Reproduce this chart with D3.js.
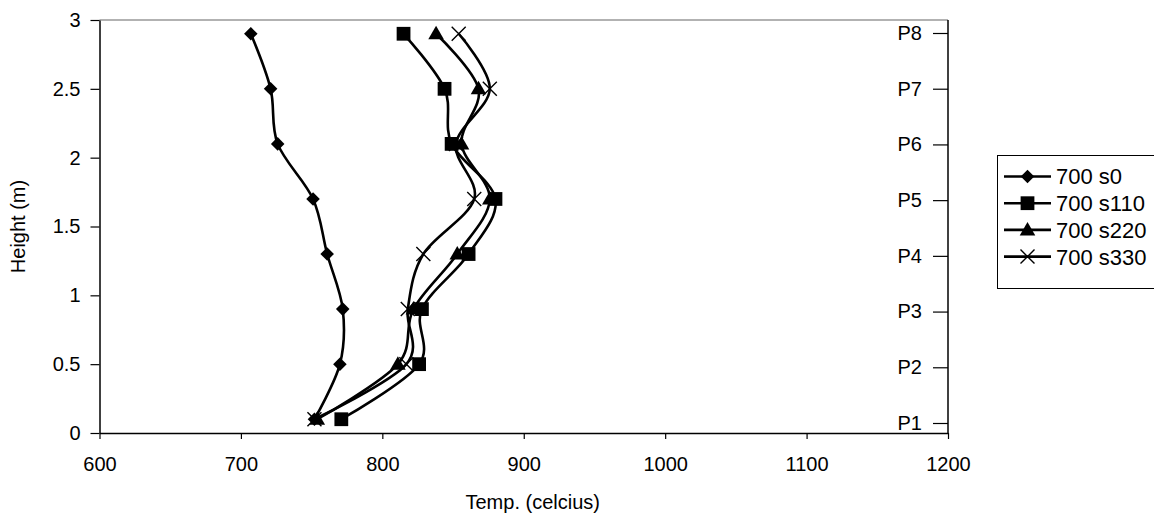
<!DOCTYPE html>
<html><head><meta charset="utf-8">
<script src="https://cdn.jsdelivr.net/npm/d3@7"></script>
<style>
body{margin:0;background:#fff}
text{font-family:"Liberation Sans",Arial,sans-serif;fill:#000}
</style>
</head><body><svg id="c" width="1154" height="521"></svg>
<script>
const heights = [0.1, 0.5, 0.9, 1.3, 1.7, 2.1, 2.5, 2.9];
const s0   = [752, 770, 772, 761, 751, 726, 721, 707];
const s110 = [771, 826, 828, 861, 880, 849, 844, 815];
const s220 = [754, 811, 822, 853, 876, 856, 868, 838];
const s330 = [752, 817, 818, 829, 865, 852, 876, 854];
const seriesNames = ["700 s0", "700 s110", "700 s220", "700 s330"];
const seriesMarkers = ["diamond", "square", "triangle", "cross"];
const xTicks = [600, 700, 800, 900, 1000, 1100, 1200];
const yTicks = [0, 0.5, 1, 1.5, 2, 2.5, 3];
const pLabels = ["P1", "P2", "P3", "P4", "P5", "P6", "P7", "P8"];

const FS = 20;
const LFS = 22;
const svg = d3.select("#c");
const x = d3.scaleLinear().domain([600, 1200]).range([99.5, 948]);
const y = d3.scaleLinear().domain([0, 3]).range([433, 20]);
const p = d3.scalePoint().domain(pLabels).range([423, 33]);

// top border
svg.append("line").attr("x1", x(600)).attr("x2", x(1200)).attr("y1", y(3)).attr("y2", y(3))
  .attr("stroke", "#999").attr("stroke-width", 1.5);

// left axis
const ga = svg.append("g").attr("transform", `translate(${x(600)},0)`)
  .call(d3.axisLeft(y).tickValues(yTicks).tickSize(9).tickSizeOuter(0).tickPadding(10).tickFormat(d => String(d)));
// bottom axis
const gb = svg.append("g").attr("transform", `translate(0,${y(0)})`)
  .call(d3.axisBottom(x).tickValues(xTicks).tickSize(6).tickSizeOuter(0).tickPadding(18).tickFormat(d => String(d)));
// right axis
svg.append("line").attr("x1", x(1200)).attr("x2", x(1200)).attr("y1", y(3)).attr("y2", y(0))
  .attr("stroke", "#000").attr("stroke-width", 1.5);
const gr = svg.append("g").attr("transform", `translate(${x(1200)},0)`)
  .call(d3.axisLeft(p).tickSize(15).tickSizeOuter(0).tickPadding(11));
gr.select(".domain").remove();

[ga, gb, gr].forEach(g => {
  g.selectAll(".domain").attr("stroke", "#000").attr("stroke-width", 1.5);
  g.selectAll(".tick line").attr("stroke", "#000").attr("stroke-width", 1.2);
  g.selectAll(".tick text").attr("font-size", FS).attr("font-family", "Liberation Sans, Arial, sans-serif").attr("fill", "#000");
});
gb.selectAll(".tick text").attr("dy", "0.71em");

// axis titles
svg.append("text").attr("x", x(900) + 9).attr("y", 509).attr("text-anchor", "middle")
  .attr("font-size", FS).text("Temp. (celcius)");
svg.append("text").attr("transform", `translate(25,${(y(0) + y(3)) / 2}) rotate(-90)`)
  .attr("text-anchor", "middle").attr("font-size", FS).text("Height (m)");

function marker(g, type) {
  if (type === "diamond") {
    g.append("path").attr("d", d3.symbol(d3.symbolSquare, 92)()).attr("transform", "rotate(45)").attr("fill", "#000");
  } else if (type === "square") {
    g.append("path").attr("d", d3.symbol(d3.symbolSquare, 190)()).attr("fill", "#000");
  } else if (type === "triangle") {
    g.append("path").attr("d", d3.symbol(d3.symbolTriangle, 105)()).attr("transform", "translate(0,1)").attr("fill", "#000");
  } else {
    g.append("path").attr("d", "M-7,-7L7,7M-7,7L7,-7").attr("stroke", "#000").attr("stroke-width", 1.4).attr("fill", "none");
  }
}

const allSeries = [s0, s110, s220, s330];
const line = d3.line().x(d => x(d[0])).y(d => y(d[1])).curve(d3.curveCardinal.tension(0));
allSeries.forEach((vals, i) => {
  const pts = vals.map((v, j) => [v, heights[j]]);
  svg.append("path").attr("d", line(pts)).attr("fill", "none").attr("stroke", "#000").attr("stroke-width", 2.6);
  pts.forEach(pt => {
    const g = svg.append("g").attr("transform", `translate(${x(pt[0])},${y(pt[1])})`);
    marker(g, seriesMarkers[i]);
  });
});

// legend
const lg = svg.append("g");
lg.append("rect").attr("x", 997.5).attr("y", 155.5).attr("width", 220).attr("height", 133)
  .attr("fill", "#fff").attr("stroke", "#000").attr("stroke-width", 1);
seriesNames.forEach((name, i) => {
  const cy = 176.5 + i * 26.7;
  lg.append("line").attr("x1", 1004).attr("x2", 1051).attr("y1", cy).attr("y2", cy)
    .attr("stroke", "#000").attr("stroke-width", 2.6);
  const g = lg.append("g").attr("transform", `translate(1027.5,${cy})`);
  marker(g, seriesMarkers[i]);
  lg.append("text").attr("x", 1056).attr("y", cy).attr("dy", "0.36em").attr("font-size", LFS).text(name);
});
</script></body></html>
